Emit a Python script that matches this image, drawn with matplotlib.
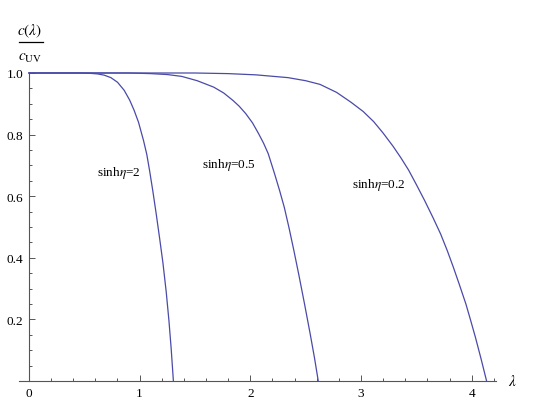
import matplotlib
matplotlib.use("Agg")
import matplotlib.pyplot as plt
from matplotlib.lines import Line2D
from matplotlib.ticker import MultipleLocator, FixedLocator

plt.rcParams['font.family'] = ['Liberation Serif', 'DejaVu Serif']
plt.rcParams['mathtext.fontset'] = 'stix'

# curves: lambda vs c(lambda)/c_UV
lam_2 = [0, 0.45, 0.55, 0.62, 0.68, 0.74, 0.80, 0.86, 0.91, 0.95, 0.99, 1.035, 1.065, 1.09,
         1.12, 1.15, 1.18, 1.21, 1.24, 1.265, 1.285, 1.305]
c_2 = [1.0, 1.0, 0.999, 0.997, 0.993, 0.985, 0.970, 0.944, 0.912, 0.879, 0.840, 0.781, 0.735, 0.683,
       0.615, 0.542, 0.465, 0.385, 0.29, 0.195, 0.105, 0.0]

lam_05 = [0, 0.9, 1.1, 1.25, 1.38, 1.52, 1.67, 1.76, 1.843, 1.90, 1.959, 2.02, 2.075, 2.12, 2.162,
          2.22, 2.265, 2.307, 2.35, 2.394, 2.44, 2.49, 2.54, 2.58, 2.614]
c_05 = [1.0, 1.0, 0.998, 0.995, 0.989, 0.975, 0.954, 0.935, 0.911, 0.892, 0.868, 0.838, 0.803, 0.772,
        0.738, 0.672, 0.618, 0.564, 0.497, 0.423, 0.342, 0.250, 0.155, 0.075, 0.0]

lam_02 = [0, 1.5, 1.8, 2.05, 2.34, 2.50, 2.63, 2.78, 2.91, 3.02, 3.115, 3.2, 3.29, 3.36, 3.43, 3.50,
          3.575, 3.65, 3.72, 3.78, 3.833, 3.89, 3.948, 3.99, 4.034, 4.085, 4.135]
c_02 = [1.0, 1.0, 0.998, 0.994, 0.985, 0.975, 0.963, 0.937, 0.905, 0.875, 0.842, 0.805, 0.762, 0.725,
        0.685, 0.638, 0.586, 0.531, 0.477, 0.423, 0.371, 0.312, 0.250, 0.198, 0.142, 0.072, 0.0]

labels = ["sinh$\\mathit{\\eta}$=2", "sinh$\\mathit{\\eta}$=0.5", "sinh$\\mathit{\\eta}$=0.2"]
label_pos = [(0.81, 0.68), (1.81, 0.705), (3.16, 0.64)]

line_col = '#4a4aa8'
axis_col = '#555555'

fig = plt.figure(figsize=(5.45, 4.10), dpi=100)
ax = fig.add_axes([19 / 545, 28 / 410, (496 - 19) / 545, (382 - 74) / 410])

for lam, c in [(lam_2, c_2), (lam_05, c_05), (lam_02, c_02)]:
    ax.plot(lam, c, color=line_col, lw=0.9, clip_on=False)

for txt, (x, y) in zip(labels, label_pos):
    ax.text(x, y, txt, ha='center', va='center', fontsize=9.5)

ax.set_xlim(-0.09, 4.22)
ax.set_ylim(0, 1.0)

for s in ['top', 'right']:
    ax.spines[s].set_visible(False)
ax.spines['left'].set_position(('data', 0))
ax.spines['bottom'].set_position(('data', 0))
for s in ['left', 'bottom']:
    ax.spines[s].set_color(axis_col)
    ax.spines[s].set_linewidth(0.8)

ax.xaxis.set_major_locator(FixedLocator([0, 1, 2, 3, 4]))
ax.xaxis.set_minor_locator(FixedLocator([0.2, 0.4, 0.6, 0.8, 1.2, 1.4, 1.6, 1.8, 2.2, 2.4,
                                         2.6, 2.8, 3.2, 3.4, 3.6, 3.8, 4.2]))
ax.yaxis.set_major_locator(FixedLocator([0.2, 0.4, 0.6, 0.8, 1.0]))
ax.yaxis.set_minor_locator(MultipleLocator(0.05))
ax.set_yticklabels(["0.2", "0.4", "0.6", "0.8", "1.0"])
ax.set_xticklabels(["0", "1", "2", "3", "4"])

ax.tick_params(which='both', direction='in', color=axis_col, width=0.7, labelsize=9.5, pad=4)
ax.tick_params(which='major', length=4.5)
ax.tick_params(which='minor', length=2.5)

ax.text(4.33, 0, "$\\lambda$", ha='left', va='center', fontsize=11, clip_on=False)

# y label drawn as a stacked fraction
fig.text(30 / 545, 1 - 31 / 410, "$c(\\lambda)$", ha='center', va='center', fontsize=11)
fig.add_artist(Line2D([19 / 545, 43 / 545], [1 - 43 / 410, 1 - 43 / 410], color='black', lw=0.9))
fig.text(30 / 545, 1 - 58 / 410, "$c_{\\mathrm{UV}}$", ha='center', va='center', fontsize=11)

fig.savefig("out.png", dpi=100)
